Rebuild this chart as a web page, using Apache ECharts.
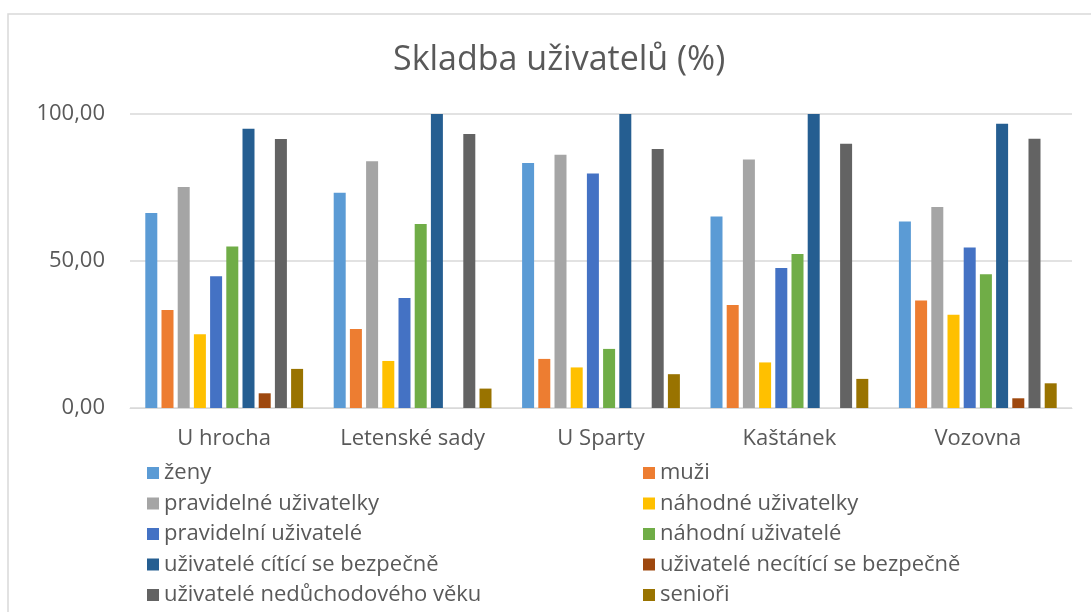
<!DOCTYPE html>
<html>
<head>
<meta charset="utf-8">
<script src="https://cdn.jsdelivr.net/npm/echarts@6/dist/echarts.min.js"></script>
<style>
  html, body { margin: 0; padding: 0; background: #fff; }
  #chart { width: 1091px; height: 612px; }
</style>
</head>
<body>
<div id="chart"></div>
<script>
var categories = ['U hrocha', 'Letenské sady', 'U Sparty', 'Kaštánek', 'Vozovna']
var seriesNames = [
  'ženy', 'muži',
  'pravidelné uživatelky', 'náhodné uživatelky',
  'pravidelní uživatelé', 'náhodní uživatelé',
  'uživatelé cítící se bezpečně', 'uživatelé necítící se bezpečně',
  'uživatelé nedůchodového věku', 'senioři'
]
var zeny = [66.3, 73.2, 83.3, 65.1, 63.4]
var muzi = [33.3, 26.9, 16.7, 35.0, 36.6]
var pravidelneUzivatelky = [75.2, 83.9, 86.1, 84.5, 68.4]
var nahodneUzivatelky = [25.1, 16.0, 13.8, 15.5, 31.7]
var pravidelniUzivatele = [44.8, 37.4, 79.8, 47.6, 54.6]
var nahodniUzivatele = [54.9, 62.6, 20.1, 52.4, 45.5]
var citiciBezpecne = [95.0, 100, 100, 100, 96.7]
var neciticiBezpecne = [5.0, 0, 0, 0, 3.3]
var neduchodovyVek = [91.5, 93.2, 88.1, 89.9, 91.6]
var seniori = [13.3, 6.6, 11.5, 9.9, 8.4]
var yTicks = [0, 50, 100]

var values = [zeny, muzi, pravidelneUzivatelky, nahodneUzivatelky, pravidelniUzivatele,
  nahodniUzivatele, citiciBezpecne, neciticiBezpecne, neduchodovyVek, seniori]
var colors = ['#5B9BD5', '#ED7D31', '#A5A5A5', '#FFC000', '#4472C4',
  '#70AD47', '#255E91', '#9E480E', '#636363', '#997300']

var font = '"Open Sans", Lato, sans-serif'
var chart = echarts.init(document.getElementById('chart'))

var series = values.map(function(v, i) {
  return {
    name: seriesNames[i],
    type: 'bar',
    data: v,
    barWidth: 12,
    barGap: '35%',
    itemStyle: { color: colors[i] }
  }
})

var legendStyle = { fontFamily: font, fontSize: 22, color: '#595959' }

chart.setOption({
  animation: false,
  textStyle: { fontFamily: font },
  title: {
    text: 'Skladba uživatelů (%)',
    left: 388,
    top: 38,
    textStyle: { fontFamily: font, fontSize: 34, fontWeight: 'normal', color: '#595959' }
  },
  graphic: [{
    type: 'rect',
    shape: { x: 8, y: 14, width: 1100, height: 620 },
    style: { fill: 'none', stroke: '#d9d9d9', lineWidth: 1.5 }
  }],
  legend: [{
    orient: 'vertical',
    left: 142,
    top: 457,
    itemWidth: 12,
    itemHeight: 12,
    itemGap: 8.5,
    icon: 'rect',
    textStyle: legendStyle,
    data: seriesNames.filter(function(n, i) { return i % 2 === 0 })
  }, {
    orient: 'vertical',
    left: 638,
    top: 457,
    itemWidth: 12,
    itemHeight: 12,
    itemGap: 8.5,
    icon: 'rect',
    textStyle: legendStyle,
    data: seriesNames.filter(function(n, i) { return i % 2 === 1 })
  }],
  grid: {
    left: 130,
    right: 19,
    top: 114,
    bottom: 204,
    containLabel: false
  },
  xAxis: {
    type: 'category',
    data: categories,
    axisTick: { show: false },
    axisLine: { lineStyle: { color: '#d9d9d9' } },
    axisLabel: { fontFamily: font, fontSize: 22, color: '#595959', margin: 20 }
  },
  yAxis: {
    type: 'value',
    min: yTicks[0],
    max: yTicks[yTicks.length - 1],
    interval: yTicks[1] - yTicks[0],
    axisLine: { show: false },
    axisTick: { show: false },
    splitLine: { lineStyle: { color: '#d9d9d9', width: 1.5 } },
    axisLabel: {
      fontFamily: font,
      fontSize: 22,
      color: '#595959',
      margin: 25,
      formatter: function(v) { return v.toFixed(2).replace('.', ',') }
    }
  },
  series: series
})
</script>
</body>
</html>
